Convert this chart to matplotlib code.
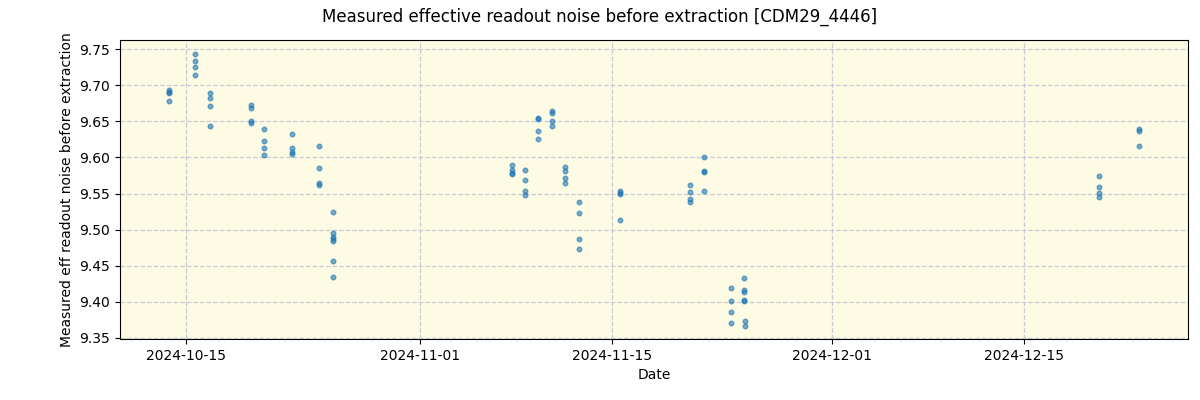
import pandas as pd
import matplotlib
matplotlib.use("Agg")
from matplotlib import pyplot as plt
import matplotlib.dates as mdates

plt.rcParams['figure.figsize'] = [12.0, 4.0]
plt.rcParams['figure.dpi'] = 100

# observation times (one entry per measurement)
dates = (
    ["2024-10-13 17:00"] * 4
    + ["2024-10-15 16:00"] * 4
    + ["2024-10-16 17:00"] * 4
    + ["2024-10-19 16:30"] * 4
    + ["2024-10-20 15:00"] * 4
    + ["2024-10-22 16:00"] * 4
    + ["2024-10-24 15:30"] * 4
    + ["2024-10-25 16:00"] * 7
    + ["2024-11-07 17:00"] * 4
    + ["2024-11-08 16:00"] * 4
    + ["2024-11-09 14:30"] * 4
    + ["2024-11-10 15:00"] * 4
    + ["2024-11-11 14:00"] * 4
    + ["2024-11-12 14:00"] * 4
    + ["2024-11-15 14:00"] * 4
    + ["2024-11-20 16:00"] * 4
    + ["2024-11-21 17:00"] * 4
    + ["2024-11-23 16:00"] * 4
    + ["2024-11-24 15:30"] * 5
    + ["2024-11-24 17:00"] * 2
    + ["2024-12-20 12:00"] * 4
    + ["2024-12-23 10:00"] * 3
)

noise = [
    9.693, 9.691, 9.689, 9.678,
    9.744, 9.734, 9.726, 9.715,
    9.690, 9.683, 9.672, 9.643,
    9.673, 9.668, 9.650, 9.648,
    9.640, 9.623, 9.613, 9.604,
    9.633, 9.613, 9.607, 9.605,
    9.616, 9.586, 9.565, 9.562,
    9.525, 9.495, 9.490, 9.487, 9.484, 9.456, 9.434,
    9.590, 9.582, 9.579, 9.577,
    9.583, 9.569, 9.553, 9.548,
    9.655, 9.654, 9.637, 9.625,
    9.665, 9.662, 9.651, 9.644,
    9.587, 9.581, 9.572, 9.564,
    9.538, 9.523, 9.487, 9.473,
    9.554, 9.551, 9.549, 9.513,
    9.562, 9.552, 9.543, 9.539,
    9.600, 9.581, 9.580, 9.554,
    9.419, 9.401, 9.386, 9.371,
    9.433, 9.416, 9.413, 9.403, 9.401,
    9.373, 9.367,
    9.575, 9.559, 9.551, 9.545,
    9.639, 9.637, 9.616,
]

x = pd.to_datetime(dates)

fig, ax = plt.subplots()
ax.set_facecolor("#fdfbe3")
ax.scatter(x, noise, s=11, color="tab:blue", alpha=0.6, zorder=3)
ax.grid(True, color="#cbcbd6", linestyle="--", linewidth=0.9)
ax.xaxis.set_major_locator(mdates.DayLocator(bymonthday=[1, 15]))
ax.xaxis.set_major_formatter(mdates.DateFormatter("%Y-%m-%d"))
ax.set_xlabel("Date")
ax.set_ylabel("Measured eff readout noise before extraction")
fig.suptitle("Measured effective readout noise before extraction [CDM29_4446]", fontsize=12)
fig.subplots_adjust(left=0.1, right=0.99, top=0.9, bottom=0.152)

plt.savefig("out.png")
plt.close("all")
